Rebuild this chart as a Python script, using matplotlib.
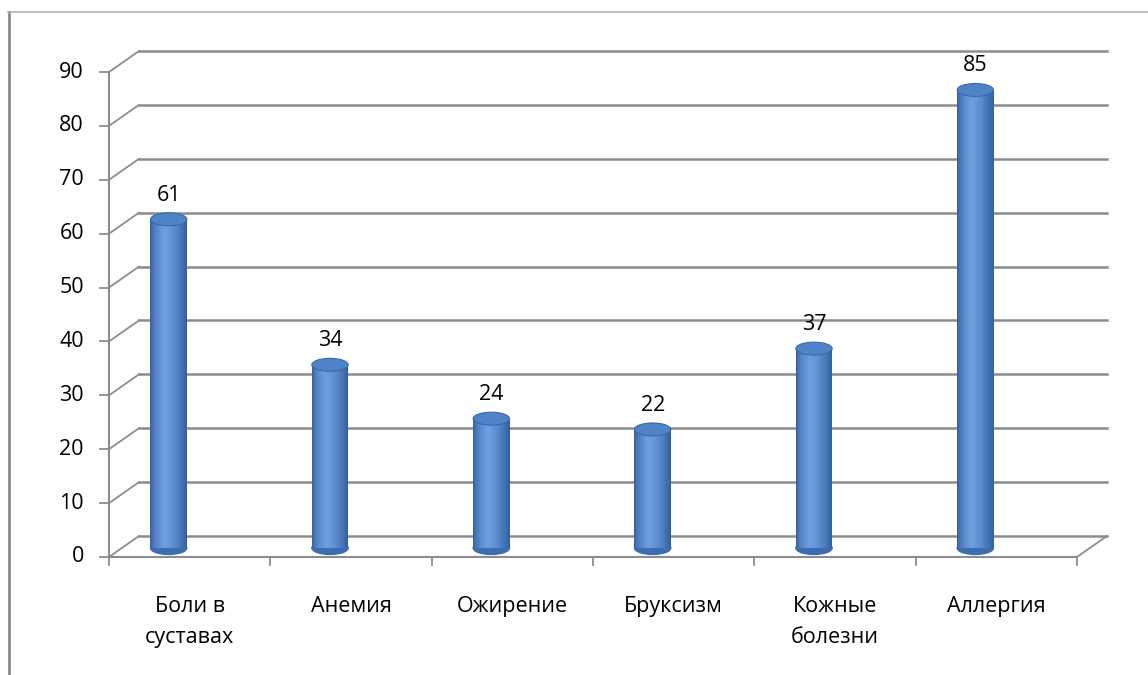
import matplotlib
matplotlib.use("Agg")
import matplotlib.pyplot as plt
import matplotlib.transforms as mtransforms
from matplotlib.patches import Ellipse
from matplotlib.lines import Line2D
import numpy as np

categories = ["Боли в\nсуставах", "Анемия", "Ожирение", "Бруксизм", "Кожные\nболезни", "Аллергия"]
values = [61, 34, 24, 22, 37, 85]
yticks = [0, 10, 20, 30, 40, 50, 60, 70, 80, 90]

plt.rcParams['font.family'] = ['Open Sans', 'DejaVu Sans']

W, H = 1148, 675
fig = plt.figure(figsize=(W / 100, H / 100), dpi=100)
# front plane: x 109..1077 px, y 557..72 px
ax = fig.add_axes([109 / W, (H - 557) / H, (1077 - 109) / W, (557 - 72) / H])
n = len(categories)
ax.set_xlim(-0.5, n - 0.5)
ax.set_ylim(0, 90)
ax.axis('off')

grid_c = '#8c8c8c'
px = lambda dx, dy: mtransforms.ScaledTranslation(dx / 100, dy / 100, fig.dpi_scale_trans)
back = ax.transData + px(30, 21)
bar_tr = ax.transData + px(-21, 9)

for t in yticks:
    ax.add_line(Line2D([-0.5, n - 0.5], [t, t], transform=back, color=grid_c, lw=1.8, zorder=1,
                       clip_on=False))
    x0, y0 = ax.transData.transform((-0.5, t))
    x1, y1 = back.transform((-0.5, t))
    fig.add_artist(Line2D([x0 / W, x1 / W], [y0 / H, y1 / H], transform=fig.transFigure,
                          color=grid_c, lw=1.3, zorder=1))
    fig.add_artist(Line2D([(x0 - 9) / W, x0 / W], [y0 / H, y0 / H], transform=fig.transFigure,
                          color=grid_c, lw=1.3))
    ax.text(-0.5, t, str(t), transform=ax.transData + px(-25, 0),
            ha='right', va='center', fontsize=15.5, color='black', clip_on=False)

ax.add_line(Line2D([-0.5, -0.5], [0, 90], color=grid_c, lw=1.5, zorder=2, clip_on=False))
ax.add_line(Line2D([-0.5, n - 0.5], [0, 0], color=grid_c, lw=1.5, zorder=2, clip_on=False))
x0, y0 = ax.transData.transform((n - 0.5, 0))
x1, y1 = back.transform((n - 0.5, 0))
fig.add_artist(Line2D([x0 / W, x1 / W], [y0 / H, y1 / H], transform=fig.transFigure, color=grid_c, lw=1.3))
for b in np.arange(-0.5, n, 1.0):
    xb, yb = ax.transData.transform((b, 0))
    fig.add_artist(Line2D([xb / W, xb / W], [yb / H, (yb - 8) / H], transform=fig.transFigure,
                          color=grid_c, lw=1.3))

# cylinders
bw = 0.225
cap_h = 2.4
N = 40
dark_l = np.array([0x2a, 0x55, 0x92]) / 255
light = np.array([0x6c, 0x9e, 0xe0]) / 255
dark_r = np.array([0x30, 0x5f, 0x9e]) / 255
xs = np.arange(n)
for j in range(N):
    f = (j + 0.5) / N
    if f < 0.38:
        c = dark_l + (light - dark_l) * (f / 0.38) ** 0.5
    else:
        c = light + (dark_r - light) * ((f - 0.38) / 0.62) ** 1.5
    ax.bar(xs - bw / 2 + f * bw, values, width=bw / N * 1.05, color=c, transform=bar_tr,
           zorder=4, linewidth=0, clip_on=False)
for i, v in enumerate(values):
    ax.add_patch(Ellipse((xs[i], 0), bw, cap_h, transform=bar_tr, color='#3c6db0', zorder=3.9,
                         clip_on=False))
    ax.add_patch(Ellipse((xs[i], v), bw, cap_h, transform=bar_tr, facecolor='#4f83c8',
                         edgecolor='#3a67a8', lw=0.8, zorder=5, clip_on=False))
    ax.text(xs[i], v, str(v), transform=bar_tr + px(0, 24),
            ha='center', va='center', fontsize=15.5, color='black', zorder=6, clip_on=False)

for i, c in enumerate(categories):
    ax.text(xs[i], 0, c, transform=ax.transData + px(0, -39),
            ha='center', va='top', fontsize=15.5, color='black', linespacing=1.6, clip_on=False)

fig.add_artist(Line2D([9 / W, 9 / W], [0, (H - 12) / H], transform=fig.transFigure, color='#8a8a8a', lw=2))
fig.add_artist(Line2D([8 / W, 1], [(H - 12) / H, (H - 12) / H], transform=fig.transFigure, color='#b0b0b0', lw=1.2))

fig.savefig('out.png', dpi=100, facecolor='white')
